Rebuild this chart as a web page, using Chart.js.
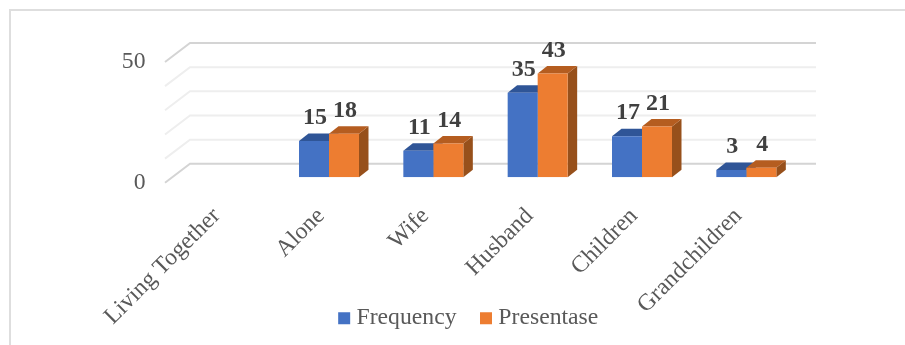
<!DOCTYPE html>
<html>
<head>
<meta charset="utf-8">
<style>
html,body{margin:0;padding:0;background:#fff;}
#wrap{width:905px;height:345px;position:relative;overflow:hidden;}
</style>
<script src="https://cdn.jsdelivr.net/npm/chart.js@4"></script>
</head>
<body>
<div id="wrap"><canvas id="chart" width="905" height="345"></canvas></div>
<script>
const categories = ["Living Together", "Alone", "Wife", "Husband", "Children", "Grandchildren"];
const frequency = [null, 15, 11, 35, 17, 3];
const presentase = [null, 18, 14, 43, 21, 4];
const axisLabelsShown = [0, 50];

const SERIF = '"Liberation Serif", "Times New Roman", serif';

// Offsets of the pseudo-3D box relative to the plane the bars stand on.
const BAR_DEPTH = {x: 9.5, y: -7.5};
const FLOOR_FRONT = {x: -7.5, y: 5.5};
const WALL_BACK = {x: 17.5, y: -13.5};

function shade(dataset) {
  return dataset.label === "Frequency"
    ? {top: "#2f5597", side: "#2f5597"}
    : {top: "#b55d20", side: "#97501b"};
}

const perspectivePlugin = {
  id: "perspective",
  afterLayout(chart) {
    // Let the axis labels spill past their boxes instead of being cut off.
    chart.scales.x.bottom = chart.height;
    chart.scales.y.left = 0;
  },
  beforeDraw(chart) {
    const {ctx} = chart;
    // Outer frame: top and left edges only.
    ctx.save();
    ctx.strokeStyle = "#dedede";
    ctx.lineWidth = 2;
    ctx.beginPath();
    ctx.moveTo(10, 345);
    ctx.lineTo(10, 10);
    ctx.lineTo(905, 10);
    ctx.stroke();
    ctx.restore();
  },
  beforeDatasetsDraw(chart) {
    const {ctx, scales: {y}, chartArea: area} = chart;
    ctx.save();
    // Side-wall and back-wall gridlines.
    y.ticks.forEach(t => {
      const py = y.getPixelForValue(t.value);
      const major = t.value === 0 || t.value === 50;
      ctx.strokeStyle = major ? "#d4d4d4" : "#eeeeee";
      ctx.lineWidth = 2;
      ctx.beginPath();
      ctx.moveTo(area.left + FLOOR_FRONT.x, py + FLOOR_FRONT.y);
      ctx.lineTo(area.left + WALL_BACK.x, py + WALL_BACK.y);
      ctx.lineTo(area.right + WALL_BACK.x, py + WALL_BACK.y);
      ctx.stroke();
    });
    // Top and side faces of each bar.
    chart.data.datasets.forEach((ds, i) => {
      const s = shade(ds);
      chart.getDatasetMeta(i).data.forEach((bar, j) => {
        if (ds.data[j] === null) return;
        const half = bar.width / 2;
        const l = bar.x - half, r = bar.x + half, t = bar.y, b = bar.base;
        const dx = BAR_DEPTH.x, dy = BAR_DEPTH.y;
        ctx.fillStyle = s.side;
        ctx.beginPath();
        ctx.moveTo(r, t); ctx.lineTo(r + dx, t + dy);
        ctx.lineTo(r + dx, b + dy); ctx.lineTo(r, b);
        ctx.closePath(); ctx.fill();
        ctx.fillStyle = s.top;
        ctx.beginPath();
        ctx.moveTo(l, t); ctx.lineTo(l + dx, t + dy);
        ctx.lineTo(r + dx, t + dy); ctx.lineTo(r, t);
        ctx.closePath(); ctx.fill();
      });
    });
    ctx.restore();
  },
  afterDatasetsDraw(chart) {
    const {ctx} = chart;
    // Value labels above each bar.
    ctx.save();
    ctx.font = "bold 24px " + SERIF;
    ctx.fillStyle = "#404040";
    ctx.textAlign = "center";
    ctx.textBaseline = "middle";
    chart.data.datasets.forEach((ds, i) => {
      chart.getDatasetMeta(i).data.forEach((bar, j) => {
        if (ds.data[j] === null) return;
        ctx.fillText(String(ds.data[j]), bar.x + 1, bar.y - 23);
      });
    });
    ctx.restore();
  }
};

new Chart(document.getElementById("chart"), {
  type: "bar",
  data: {
    labels: categories,
    datasets: [
      {label: "Frequency", data: frequency, backgroundColor: "#4472c4"},
      {label: "Presentase", data: presentase, backgroundColor: "#ed7d31"}
    ]
  },
  options: {
    responsive: false,
    animation: false,
    events: [],
    categoryPercentage: 0.575,
    barPercentage: 1,
    layout: {padding: {left: 143.5, right: 106.5, top: 56.5, bottom: 5}},
    scales: {
      x: {
        grid: {display: false},
        border: {display: false},
        ticks: {
          autoSkip: false,
          minRotation: 45,
          maxRotation: 45,
          padding: 17,
          labelOffset: -8,
          color: "#595959",
          font: {family: SERIF, size: 23.7}
        },
        afterFit(scale) { scale.height = 100; }
      },
      y: {
        min: 0,
        max: 50,
        grid: {display: false},
        border: {display: false},
        ticks: {
          stepSize: 10,
          autoSkip: false,
          padding: 19,
          labelOffset: 5.5,
          color: "#595959",
          font: {family: SERIF, size: 23.7},
          callback: v => axisLabelsShown.includes(v) ? String(v) : ""
        },
        afterFit(scale) { scale.width = 29; }
      }
    },
    plugins: {
      tooltip: {enabled: false},
      legend: {
        position: "bottom",
        labels: {
          boxWidth: 1,
          boxHeight: 1,
          padding: 29,
          color: "#595959",
          font: {family: SERIF, size: 23.7},
          generateLabels(chart) {
            return chart.data.datasets.map((ds, i) => ({
              text: ds.label,
              fillStyle: ds.backgroundColor,
              strokeStyle: ds.backgroundColor,
              lineWidth: 11,
              fontColor: "#595959",
              datasetIndex: i
            }));
          }
        }
      }
    }
  },
  plugins: [perspectivePlugin]
});
</script>
</body>
</html>
